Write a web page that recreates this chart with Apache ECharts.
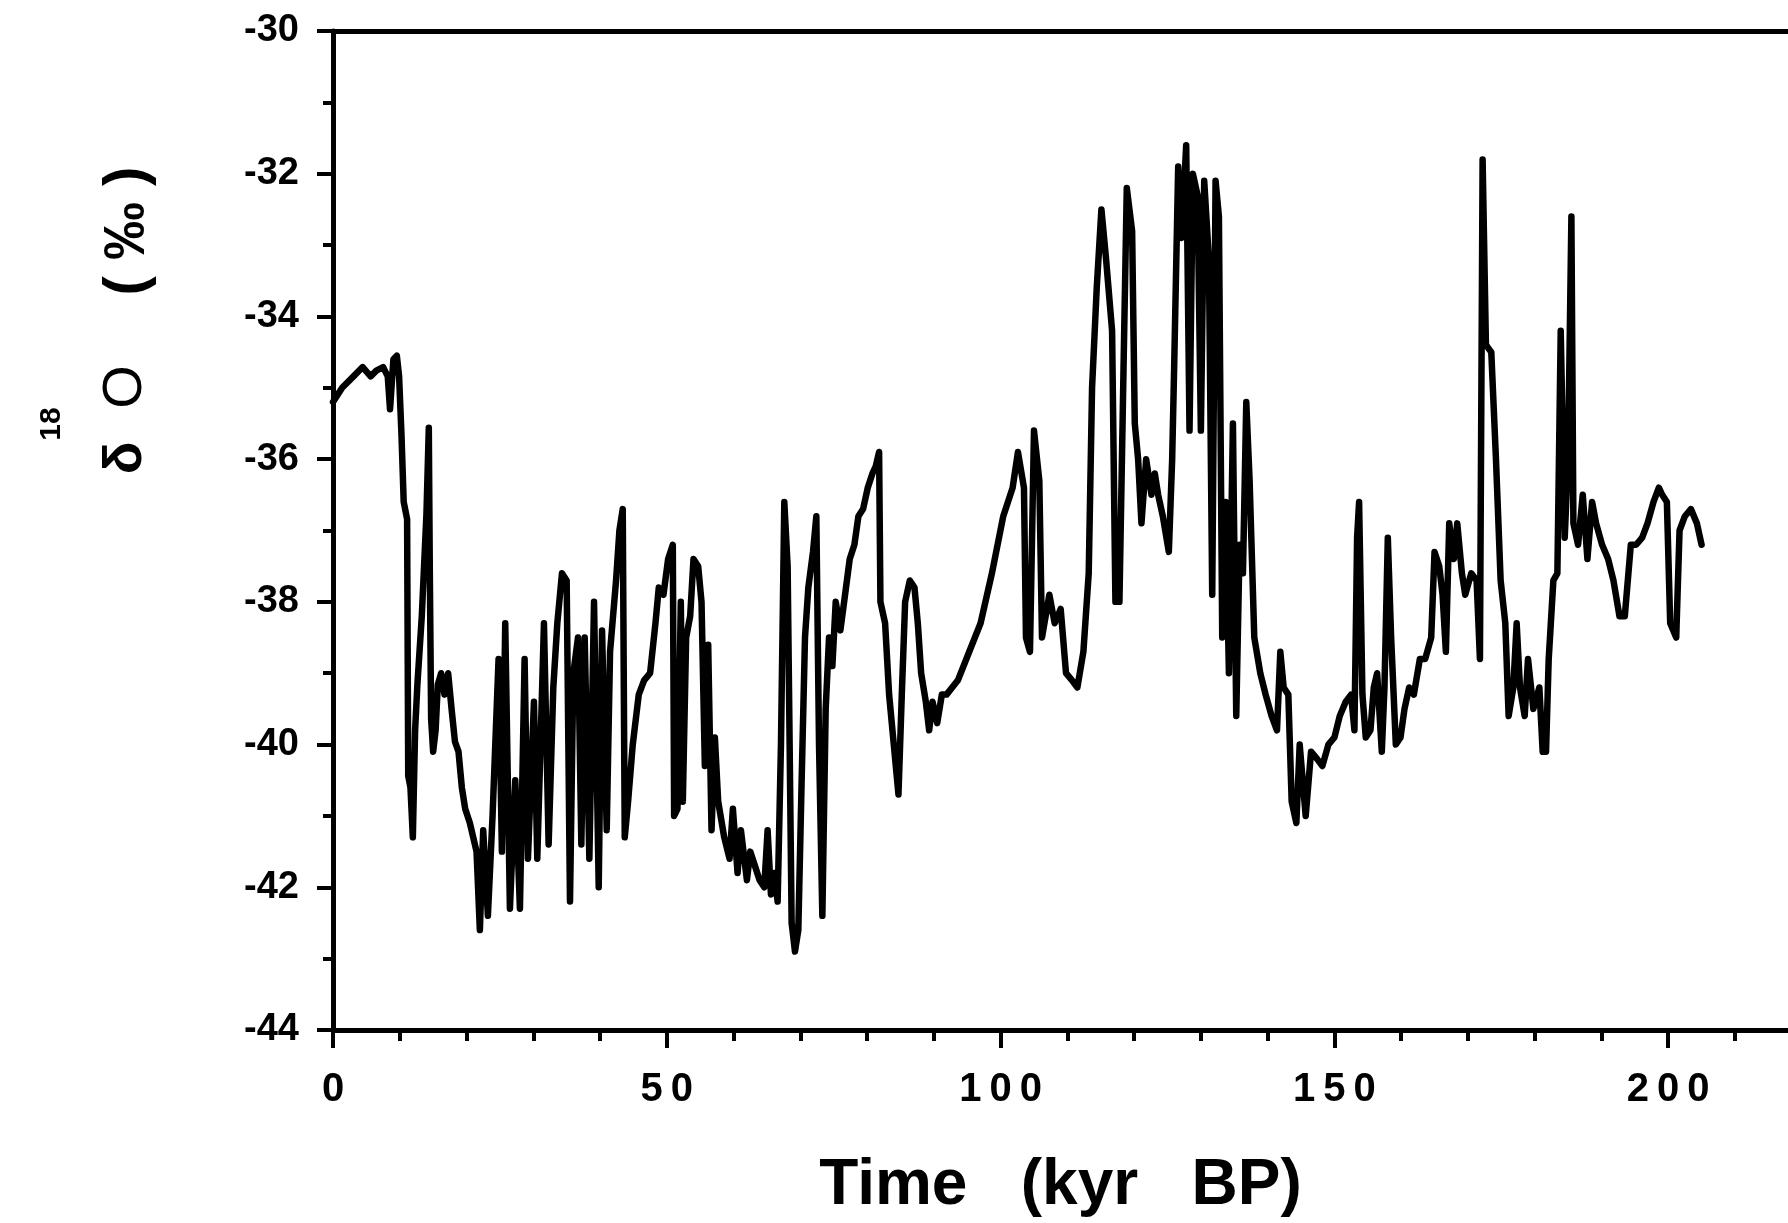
<!DOCTYPE html>
<html>
<head>
<meta charset="utf-8">
<script src="https://cdn.jsdelivr.net/npm/echarts@6/dist/echarts.min.js"></script>
<style>html,body{margin:0;padding:0;background:#fff;}#c{width:1788px;height:1223px;}</style>
</head>
<body>
<div id="c"></div>
<script>
// Age (kyr BP)
var ages = [0,1.37,3.07,4.44,5.64,6.49,7.51,8.2,8.54,9.05,9.56,9.9,10.25,10.59,11.1,11.27,11.6,11.96,12.3,12.64,13.3,14.0,14.35,14.5,14.7,15.0,15.37,15.7,16.2,16.7,17.25,17.76,18.27,18.8,19.3,19.8,20.5,21.0,
21.5,22.0,22.5,23.2,23.9,24.8,25.3,25.8,26.5,27.3,28.0,28.7,29.2,30.1,30.6,31.6,32.3,33.0,33.6,34.3,35.0,35.5,36.0,36.7,37.2,37.7,38.4,39.1,39.8,40.3,41.0,41.5,42.4,42.9,43.4,43.7,44.2,44.9,45.8,46.6,47.5,48.3,48.8,49.5,50.2,50.9,51.1,51.6,52.1,52.4,52.9,53.5,54.0,54.7,55.2,55.7,56.2,56.7,57.2,57.7,58.6,59.4,59.9,60.6,61.1,62.0,62.5,63.2,63.9,64.6,65.1,65.6,66.1,66.6,67.1,67.6,68.1,68.7,69.2,69.7,70.2,70.7,71.2,71.9,72.4,72.8,73.3,73.8,74.3,74.8,75.3,76.0,76.7,77.4,78.1,78.7,79.4,80.1,80.8,81.3,81.8,82.0,82.7,83.3,84.0,84.7,85.2,85.7,86.4,87.1,87.6,88.1,88.8,89.3,89.8,90.5,91.2,91.9,93.6,95.3,97.0,98.7,100.4,101.8,102.6,103.5,103.8,104.4,105.0,105.8,106.2,107.3,108.1,109.0,109.8,110.7,111.5,112.4,113.2,113.7,114.4,115.1,115.8,116.7,117.2,117.8,118.4,118.9,119.7,120.1,120.6,121.1,121.8,122.6,123.1,123.6,124.3,125.2,125.7,126.0,126.6,127.1,127.8,128.3,128.8,129.5,130.0,130.5,131.2,131.7,132.2,132.7,133.2,133.7,134.2,134.8,135.3,135.8,136.3,136.8,137.3,138.0,138.9,139.7,140.6,141.4,141.9,142.4,143.1,143.6,144.3,144.8,145.7,146.5,147.4,148.2,149.1,150.0,150.8,151.7,152.5,153.0,153.4,153.7,154.2,154.7,155.4,155.9,156.4,157.1,157.5,158.0,158.5,159.2,159.9,160.5,161.2,161.9,162.8,163.6,164.5,165.0,165.7,166.2,166.7,167.2,167.9,168.4,169.1,169.6,170.5,171.3,171.8,172.2,172.7,173.5,174.2,174.9,175.6,176.1,176.8,177.3,177.8,178.5,179.0,179.8,180.7,181.2,181.7,182.1,182.8,183.4,183.9,184.5,185.0,185.5,185.8,186.5,187.2,187.9,188.6,189.2,190.1,191.0,191.8,192.7,193.5,194.4,195.2,196.1,196.9,197.8,198.6,199.1,199.8,200.3,201.2,201.7,202.5,203.4,204.3,205.0];
// delta 18O (permil)
var d18O = [-35.2,-35.0,-34.84,-34.71,-34.84,-34.76,-34.71,-34.84,-35.3,-34.6,-34.55,-34.84,-35.64,-36.6,-36.84,-40.44,-40.6,-41.3,-39.8,-39.16,-38.2,-36.76,-35.56,-37.56,-39.64,-40.1,-39.8,-39.16,-39.0,-39.3,-39.0,-39.5,-39.96,-40.1,-40.6,-40.9,-41.1,-41.3,
-41.5,-42.6,-41.2,-42.4,-41.0,-38.8,-41.5,-38.3,-42.3,-40.5,-42.3,-38.8,-41.6,-39.4,-41.6,-38.3,-41.4,-39.2,-38.3,-37.6,-37.7,-42.2,-39.0,-38.5,-41.4,-38.5,-41.6,-38.0,-42.0,-38.4,-41.2,-38.7,-37.7,-37.0,-36.7,-41.3,-40.8,-40.0,-39.3,-39.1,-39.0,-38.3,-37.8,-37.9,-37.4,-37.2,-41.0,-40.9,-38.0,-40.8,-38.5,-38.2,-37.4,-37.5,-38.0,-40.3,-38.6,-41.2,-39.9,-40.8,-41.3,-41.6,-40.9,-41.8,-41.2,-41.9,-41.5,-41.7,-41.9,-42.0,-41.2,-42.1,-41.8,-42.2,-40.0,-36.6,-37.5,-42.5,-42.9,-42.6,-40.5,-38.5,-37.8,-37.3,-36.8,-40.0,-42.4,-39.5,-38.5,-38.9,-38.0,-38.4,-37.9,-37.4,-37.2,-36.8,-36.7,-36.4,-36.2,-36.1,-35.9,-38.0,-38.3,-39.3,-40.0,-40.7,-39.3,-38.0,-37.7,-37.8,-38.3,-39.0,-39.4,-39.8,-39.4,-39.7,-39.3,-39.3,-39.1,-38.7,-38.3,-37.6,-36.8,-36.4,-35.9,-36.4,-38.5,-38.7,-35.6,-36.3,-38.5,-37.9,-38.3,-38.1,-39.0,-39.1,-39.2,-38.7,-37.6,-35.0,-33.6,-32.5,-33.2,-34.2,-38.0,-38.0,-34.8,-32.2,-32.8,-35.5,-36.0,-36.9,-36.0,-36.5,-36.2,-36.5,-36.8,-37.3,-36.0,-34.7,-31.9,-32.9,-31.6,-35.6,-32.0,-32.3,-35.6,-32.1,-33.2,-37.9,-32.1,-32.6,-38.5,-36.6,-39.0,-35.5,-39.6,-37.2,-37.6,-35.2,-36.3,-38.5,-39.0,-39.3,-39.6,-39.8,-38.7,-39.2,-39.3,-40.8,-41.1,-40.0,-41.0,-40.1,-40.2,-40.3,-40.0,-39.9,-39.6,-39.4,-39.3,-39.8,-37.1,-36.6,-39.3,-39.9,-39.8,-39.2,-39.0,-40.1,-39.2,-37.1,-38.5,-40.0,-39.9,-39.5,-39.2,-39.3,-38.8,-38.8,-38.5,-37.3,-37.5,-37.9,-38.7,-36.9,-37.4,-36.9,-37.6,-37.9,-37.6,-37.7,-38.8,-31.8,-34.4,-34.5,-36.0,-37.7,-38.3,-39.6,-39.2,-38.3,-39.2,-39.6,-38.8,-39.5,-39.2,-40.1,-40.1,-38.8,-37.7,-37.6,-34.2,-37.1,-36.0,-32.6,-36.9,-37.2,-36.5,-37.4,-36.6,-36.9,-37.2,-37.4,-37.7,-38.2,-38.2,-37.2,-37.2,-37.1,-36.9,-36.6,-36.4,-36.5,-36.6,-38.3,-38.5,-37.0,-36.8,-36.7,-36.9,-37.2];

var xTickMin = 0, xTickMax = 250, xTickStep = 50;
var yTickMin = -44, yTickMax = -30, yTickStep = 2;

var pairs = ages.map(function (a, i) { return [a, d18O[i]]; });

var chart = echarts.init(document.getElementById('c'), null, { renderer: 'canvas' });
var font = '"Liberation Sans", Arial, Helvetica, sans-serif';
chart.setOption({
  animation: false,
  backgroundColor: '#ffffff',
  grid: { left: 333, top: 31, width: 1669, height: 999, containLabel: false, outerBoundsMode: 'none' },
  xAxis: [{
    type: 'value', position: 'bottom', min: xTickMin, max: xTickMax, interval: xTickStep,
    axisLine: { show: true, onZero: false, lineStyle: { color: '#000', width: 5 } },
    axisTick: { show: true, length: 18, lineStyle: { color: '#000', width: 4 } },
    minorTick: { show: true, splitNumber: 5, length: 11, lineStyle: { color: '#000', width: 4 } },
    splitLine: { show: false },
    axisLabel: {
      color: '#000', fontSize: 40, fontWeight: 'bold', fontFamily: font, margin: 40,
      formatter: function (v) { return String(v).split('').join('\u2009'); }
    },
    name: 'Time   (kyr   BP)', nameLocation: 'middle', nameGap: 124,
    nameTextStyle: { color: '#000', fontSize: 64, fontWeight: 'bold', fontFamily: font, padding: [0, 214, 0, 0] }
  }, {
    type: 'value', position: 'top', min: xTickMin, max: xTickMax, interval: xTickStep,
    axisLine: { show: true, onZero: false, lineStyle: { color: '#000', width: 5 } },
    axisTick: { show: false }, axisLabel: { show: false }, splitLine: { show: false }
  }],
  yAxis: {
    type: 'value', min: yTickMin, max: yTickMax, interval: yTickStep,
    axisLine: { show: true, onZero: false, lineStyle: { color: '#000', width: 5 } },
    axisTick: { show: true, length: 16, lineStyle: { color: '#000', width: 4 } },
    minorTick: { show: true, splitNumber: 2, length: 10, lineStyle: { color: '#000', width: 4 } },
    splitLine: { show: false },
    axisLabel: { color: '#000', fontSize: 38, fontWeight: 'bold', fontFamily: font, margin: 34 }
  },
  graphic: [
    { type: 'text', x: 126, y: 458, rotation: Math.PI / 2,
      style: { text: 'δ', font: 'bold 54px ' + font, fill: '#000', align: 'center', verticalAlign: 'middle' } },
    { type: 'text', x: 52, y: 424, rotation: Math.PI / 2,
      style: { text: '18', font: 'bold 30px ' + font, fill: '#000', align: 'center', verticalAlign: 'middle' } },
    { type: 'text', x: 126, y: 387, rotation: Math.PI / 2,
      style: { text: 'O', font: '56px ' + font, fill: '#000', align: 'center', verticalAlign: 'middle' } },
    { type: 'text', x: 128, y: 231, rotation: Math.PI / 2,
      style: { text: '( ‰ )', font: 'bold 58px ' + font, fill: '#000', align: 'center', verticalAlign: 'middle' } }
  ],
  series: [{
    type: 'line', data: pairs, xAxisIndex: 0, showSymbol: false, symbol: 'none',
    lineStyle: { color: '#000', width: 6.5, join: 'round', cap: 'round' },
    clip: true
  }]
});
</script>
</body>
</html>
